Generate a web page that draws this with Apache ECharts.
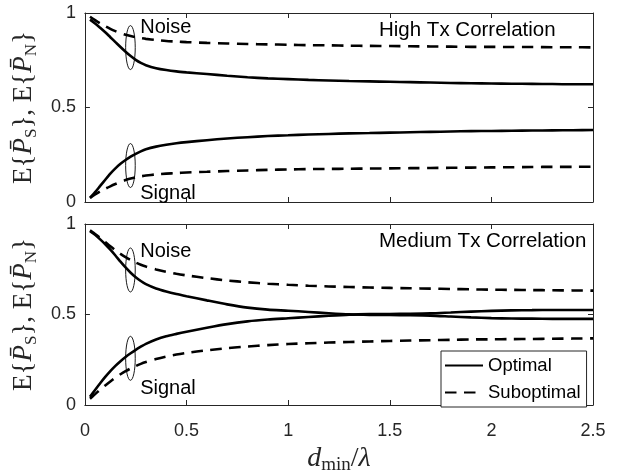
<!DOCTYPE html>
<html>
<head>
<meta charset="utf-8">
<script src="https://cdn.jsdelivr.net/npm/echarts@6/dist/echarts.min.js"></script>
<style>
html,body{margin:0;padding:0;background:#fff;}
#chart{width:618px;height:476px;}
</style>
</head>
<body>
<div id="chart"></div>
<script>
// ---------- data ----------
const xVals = [0.025, 0.05, 0.075, 0.1, 0.125, 0.15, 0.175, 0.2, 0.225, 0.25, 0.275, 0.3, 0.35, 0.4, 0.45, 0.5,
               0.6, 0.7, 0.8, 0.9, 1.0, 1.1, 1.2, 1.3, 1.4, 1.5, 1.6, 1.7, 1.8, 1.9, 2.0, 2.1, 2.2, 2.3, 2.4, 2.5];

// High Tx correlation (top panel)
const highNoiseOpt  = [0.965, 0.945, 0.922, 0.898, 0.872, 0.846, 0.820, 0.795, 0.772, 0.752, 0.736, 0.724, 0.708, 0.698, 0.691, 0.686,
                       0.677, 0.668, 0.660, 0.654, 0.650, 0.646, 0.643, 0.640, 0.638, 0.636, 0.634, 0.632, 0.630, 0.628, 0.627, 0.626, 0.625, 0.624, 0.623, 0.623];
const highNoiseSub  = [0.980, 0.962, 0.945, 0.930, 0.916, 0.904, 0.894, 0.885, 0.878, 0.872, 0.867, 0.863, 0.857, 0.852, 0.849, 0.846,
                       0.842, 0.839, 0.836, 0.834, 0.832, 0.830, 0.829, 0.827, 0.826, 0.825, 0.824, 0.823, 0.822, 0.821, 0.821, 0.820, 0.820, 0.819, 0.819, 0.818];
const highSignalOpt = [0.022, 0.052, 0.085, 0.118, 0.150, 0.178, 0.202, 0.222, 0.240, 0.255, 0.268, 0.279, 0.293, 0.303, 0.311, 0.317,
                       0.327, 0.336, 0.343, 0.349, 0.353, 0.357, 0.360, 0.363, 0.365, 0.367, 0.369, 0.371, 0.373, 0.375, 0.376, 0.377, 0.378, 0.379, 0.380, 0.381];
const highSignalSub = [0.022, 0.040, 0.056, 0.070, 0.083, 0.095, 0.106, 0.116, 0.124, 0.131, 0.136, 0.140, 0.146, 0.150, 0.153, 0.156,
                       0.160, 0.164, 0.167, 0.170, 0.172, 0.174, 0.175, 0.176, 0.177, 0.178, 0.179, 0.180, 0.181, 0.182, 0.183, 0.184, 0.185, 0.186, 0.186, 0.187];

// Medium Tx correlation (bottom panel)
const medNoiseOpt   = [0.960, 0.940, 0.915, 0.888, 0.858, 0.826, 0.792, 0.760, 0.731, 0.706, 0.685, 0.668, 0.644, 0.627, 0.613, 0.601,
                       0.578, 0.556, 0.538, 0.527, 0.521, 0.514, 0.507, 0.501, 0.498, 0.497, 0.496, 0.494, 0.489, 0.484, 0.480, 0.478, 0.477, 0.476, 0.476, 0.476];
const medNoiseSub   = [0.965, 0.945, 0.923, 0.900, 0.877, 0.855, 0.835, 0.817, 0.801, 0.787, 0.775, 0.765, 0.749, 0.736, 0.725, 0.716,
                       0.701, 0.688, 0.678, 0.670, 0.664, 0.659, 0.655, 0.652, 0.649, 0.647, 0.645, 0.643, 0.641, 0.639, 0.637, 0.636, 0.635, 0.634, 0.633, 0.632];
const medSignalOpt  = [0.045, 0.083, 0.120, 0.155, 0.187, 0.216, 0.242, 0.265, 0.286, 0.305, 0.322, 0.338, 0.362, 0.380, 0.393, 0.405,
                       0.427, 0.447, 0.462, 0.472, 0.479, 0.486, 0.493, 0.499, 0.502, 0.503, 0.504, 0.506, 0.511, 0.516, 0.520, 0.523, 0.524, 0.525, 0.525, 0.525];
const medSignalSub  = [0.035, 0.060, 0.085, 0.108, 0.130, 0.151, 0.170, 0.187, 0.202, 0.215, 0.227, 0.237, 0.254, 0.268, 0.279, 0.288,
                       0.302, 0.314, 0.323, 0.331, 0.337, 0.341, 0.345, 0.348, 0.351, 0.354, 0.356, 0.358, 0.360, 0.362, 0.363, 0.364, 0.365, 0.366, 0.367, 0.368];

const xTicks = [0, 0.5, 1, 1.5, 2, 2.5];
const yTicks = [0, 0.5, 1];
const legendNames = ['Optimal', 'Suboptimal'];
const panelTitles = ['High Tx Correlation', 'Medium Tx Correlation'];

// ellipse annotations: [x, y, label, labelX, labelY]
const annoHigh = [[0.224, 0.817, 'Noise', 0.272, 0.922], [0.224, 0.193, 'Signal', 0.272, 0.045]];
const annoMed  = [[0.224, 0.746, 'Noise', 0.272, 0.85], [0.224, 0.258, 'Signal', 0.272, 0.09]];

// ---------- chart ----------
const AX = '#262626';
const SANS = 'Liberation Sans, Arial, Helvetica, sans-serif';
const SERIF = 'Liberation Serif, Times New Roman, serif';
const chart = echarts.init(document.getElementById('chart'), null, {renderer: 'canvas'});

function pairs(ys) { return xVals.map((x, i) => [x, ys[i]]); }

function xAxisDef(gi, pos, showLabels) {
  const a = {
    type: 'value', gridIndex: gi, position: pos, min: 0, max: 2.5, interval: 0.5,
    axisLine: {show: true, onZero: false, lineStyle: {color: AX, width: 1}},
    axisTick: {show: true, inside: true, length: 5, lineStyle: {color: AX}},
    splitLine: {show: false},
    axisLabel: {show: showLabels, color: AX, fontFamily: SANS, fontSize: 18, margin: 17,
      formatter: v => (xTicks.indexOf(v) >= 0 ? String(v) : '')}
  };
  if (showLabels) {
    a.name = '{i|d}{s|min}{r|/}{i|λ}';
    a.nameLocation = 'middle';
    a.nameGap = 38;
    a.nameTextStyle = {fontFamily: SERIF, fontSize: 28, color: AX, lineHeight: 32,
      rich: {
        i: {fontFamily: SERIF, fontStyle: 'italic', fontSize: 28, color: AX, lineHeight: 32, verticalAlign: 'middle'},
        r: {fontFamily: SERIF, fontSize: 28, color: AX, lineHeight: 32, verticalAlign: 'middle'},
        s: {fontFamily: SERIF, fontSize: 19, color: AX, lineHeight: 19, verticalAlign: 'bottom'}
      }};
  }
  return a;
}
function yAxisDef(gi, pos, showLabels) {
  const a = {
    type: 'value', gridIndex: gi, position: pos, min: 0, max: 1, interval: 0.5,
    axisLine: {show: true, onZero: false, lineStyle: {color: AX, width: 1}},
    axisTick: {show: true, inside: true, length: 5, lineStyle: {color: AX}},
    splitLine: {show: false},
    axisLabel: {show: showLabels, color: AX, fontFamily: SANS, fontSize: 18, margin: 9,
      formatter: v => (yTicks.indexOf(v) >= 0 ? String(v) : '')}
  };
  if (showLabels) {
    a.name = 'E{{i|P\u0304}{s|S}}, E{{i|P\u0304}{s|N}}';
    a.nameLocation = 'middle';
    a.nameGap = 35;
    a.nameTextStyle = {fontFamily: SERIF, fontSize: 27, color: AX, lineHeight: 32,
      rich: {
        i: {fontFamily: SERIF, fontStyle: 'italic', fontSize: 27, color: AX, lineHeight: 32, verticalAlign: 'middle'},
        s: {fontFamily: SERIF, fontSize: 17, color: AX, lineHeight: 17, verticalAlign: 'bottom'}
      }};
  }
  return a;
}

function lineSeries(name, ys, gi, dashed) {
  return {
    type: 'line', name: name, xAxisIndex: gi * 2, yAxisIndex: gi * 2,
    data: pairs(ys), symbol: 'none', smooth: 0.25,
    lineStyle: {color: '#000', width: 2.6, type: dashed ? [11.5, 7.5] : 'solid', cap: 'butt'},
    itemStyle: {color: '#000'},
    silent: true, animation: false, z: 3
  };
}

function annoSeries(data, gi) {
  return {
    type: 'custom', xAxisIndex: gi * 2, yAxisIndex: gi * 2, silent: true, animation: false, clip: false, z: 4,
    data: data.map(d => [d[0], d[1], d[3], d[4]]),
    renderItem: function (params, api) {
      const c = api.coord([api.value(0), api.value(1)]);
      const t = api.coord([api.value(2), api.value(3)]);
      const label = data[params.dataIndex][2];
      return {
        type: 'group',
        children: [
          {type: 'ellipse', shape: {cx: c[0], cy: c[1], rx: 4.8, ry: 22}, style: {fill: 'none', stroke: '#000', lineWidth: 0.9}},
          {type: 'text', x: t[0], y: t[1], style: {text: label, fill: '#000', font: '20px ' + SANS, textAlign: 'left', textVerticalAlign: 'middle'}}
        ]
      };
    }
  };
}

const option = {
  backgroundColor: '#fff',
  animation: false,
  title: [
    {text: panelTitles[0], left: 379, top: 20, textStyle: {fontFamily: SANS, fontSize: 20.5, fontWeight: 'normal', color: '#000'}, padding: 0},
    {text: panelTitles[1], left: 379, top: 231, textStyle: {fontFamily: SANS, fontSize: 20.5, fontWeight: 'normal', color: '#000'}, padding: 0}
  ],
  grid: [
    {left: 83, top: 13, width: 510, height: 189},
    {left: 83, top: 224, width: 510, height: 190}
  ],
  xAxis: [xAxisDef(0, 'bottom', false), xAxisDef(0, 'top', false), xAxisDef(1, 'bottom', true), xAxisDef(1, 'top', false)],
  yAxis: [yAxisDef(0, 'left', true), yAxisDef(0, 'right', false), yAxisDef(1, 'left', true), yAxisDef(1, 'right', false)],
  legend: {
    data: legendNames, orient: 'vertical', left: 441, top: 351,
    backgroundColor: '#fff', borderColor: AX, borderWidth: 1, borderRadius: 0,
    padding: [5, 6, 5, 3], itemGap: 8, itemWidth: 38, itemHeight: 17,
    itemStyle: {opacity: 0},
    textStyle: {fontFamily: SANS, fontSize: 18.5, color: '#000'},
    selectedMode: false, z: 10
  },
  series: [
    lineSeries(legendNames[0], highNoiseOpt, 0, false),
    lineSeries(legendNames[1], highNoiseSub, 0, true),
    lineSeries(legendNames[0], highSignalOpt, 0, false),
    lineSeries(legendNames[1], highSignalSub, 0, true),
    lineSeries(legendNames[0], medNoiseOpt, 1, false),
    lineSeries(legendNames[1], medNoiseSub, 1, true),
    lineSeries(legendNames[0], medSignalOpt, 1, false),
    lineSeries(legendNames[1], medSignalSub, 1, true),
    annoSeries(annoHigh, 0),
    annoSeries(annoMed, 1)
  ]
};
chart.setOption(option);
</script>
</body>
</html>
